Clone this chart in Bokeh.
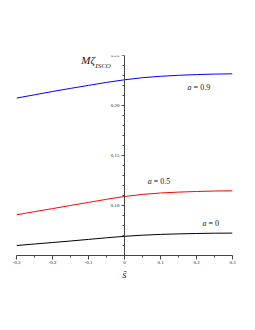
from bokeh.plotting import figure
from bokeh.models import LinearAxis, FixedTicker, Label
from bokeh.core.properties import value
from bokeh.embed import file_html
from bokeh.resources import INLINE

# data
s_hat = [-0.3, -0.25, -0.2, -0.15, -0.1, -0.05, 0.0, 0.05, 0.1, 0.15, 0.2, 0.25, 0.3]
zeta_a09 = [0.2074, 0.2107, 0.2140, 0.2171, 0.2201, 0.2231, 0.2257, 0.2278, 0.2292, 0.2302, 0.2309, 0.2314, 0.2317]
zeta_a05 = [0.0907, 0.0938, 0.0969, 0.1000, 0.1031, 0.1062, 0.1090, 0.1111, 0.1125, 0.1134, 0.1140, 0.1145, 0.1147]
zeta_a00 = [0.0600, 0.0615, 0.0630, 0.0645, 0.0661, 0.0677, 0.0692, 0.0703, 0.0711, 0.0716, 0.0720, 0.0723, 0.0724]

x_ticks = [-0.3, -0.2, -0.1, 0.0, 0.1, 0.2, 0.3]
x_tick_labels = ["-0.3", "-0.2", "-0.1", "0", "0.1", "0.2", "0.3"]
x_minor = [-0.25, -0.15, -0.05, 0.05, 0.15, 0.25]
y_ticks = [0.05, 0.10, 0.15, 0.20, 0.25]
y_tick_labels = ["", "0.10", "0.15", "0.20", "0.25"]
y_minor = [round(0.05 + 0.01 * i, 2) for i in range(21)]

curve_names = ["= 0.9", "= 0.5", "= 0"]
curve_label_x = [0.192, 0.081, 0.233]
curve_label_y = [0.218, 0.124, 0.082]

SERIF = "Liberation Serif"

p = figure(width=247, height=322, x_range=(-0.3, 0.3), y_range=(0.05, 0.25),
           frame_width=216, frame_height=200,
           min_border_left=16, min_border_right=15, min_border_top=55, min_border_bottom=67,
           x_axis_location="below", y_axis_location=None,
           output_backend="svg", toolbar_location=None)
p.outline_line_color = None
p.grid.visible = False
p.background_fill_color = "white"
p.border_fill_color = "white"

xa = p.xaxis[0]
xa.ticker = FixedTicker(ticks=x_ticks, minor_ticks=x_minor)
xa.major_label_overrides = {t: l for t, l in zip(x_ticks, x_tick_labels)}
xa.major_label_text_font = SERIF
xa.major_label_text_font_size = "5px"
xa.major_label_text_color = "#222222"
xa.major_label_standoff = 1
xa.major_tick_out = 4
xa.major_tick_in = 0
xa.minor_tick_out = 2
xa.minor_tick_in = 0
xa.axis_line_color = "#444444"
xa.major_tick_line_color = "#444444"
xa.minor_tick_line_color = "#444444"
xa.axis_label = "ŝ"
xa.axis_label_text_font = SERIF
xa.axis_label_text_font_style = "italic"
xa.axis_label_text_font_size = "11px"
xa.axis_label_text_color = "#222222"
xa.axis_label_standoff = 1

ya = LinearAxis(fixed_location=0)
ya.ticker = FixedTicker(ticks=y_ticks, minor_ticks=y_minor)
ya.major_label_overrides = {t: l for t, l in zip(y_ticks, y_tick_labels)}
ya.major_label_text_font = SERIF
ya.major_label_text_font_size = "5px"
ya.major_label_text_color = "#222222"
ya.major_label_standoff = 2
ya.major_tick_out = 3
ya.major_tick_in = 0
ya.minor_tick_out = 2
ya.minor_tick_in = 0
ya.axis_line_color = "#444444"
ya.major_tick_line_color = "#444444"
ya.minor_tick_line_color = "#444444"
p.add_layout(ya, "left")

p.line(s_hat, zeta_a09, line_color="#0000ff", line_width=1)
p.line(s_hat, zeta_a05, line_color="#ff0000", line_width=1)
p.line(s_hat, zeta_a00, line_color="#000000", line_width=1)

p.text(x=curve_label_x, y=curve_label_y, text=curve_names, text_font=value(SERIF),
       text_font_size="8px", text_align="left", text_baseline="middle", text_color="#111111")
p.text(x=curve_label_x, y=curve_label_y, text=["a"] * 3, text_font=value(SERIF),
       text_font_style="italic", text_font_size="8px", text_align="right",
       text_baseline="middle", x_offset=-2, text_color="#111111")

p.add_layout(Label(x=-0.12, y=0.2397, text="Mζ", text_font=SERIF, text_font_style="italic",
                   text_font_size="11px", text_color="#111111"))
p.add_layout(Label(x=-0.081, y=0.2352, text="ISCO", text_font=SERIF, text_font_style="italic",
                   text_font_size="7px", text_color="#111111"))

open("out.html", "w").write(file_html(p, INLINE))
